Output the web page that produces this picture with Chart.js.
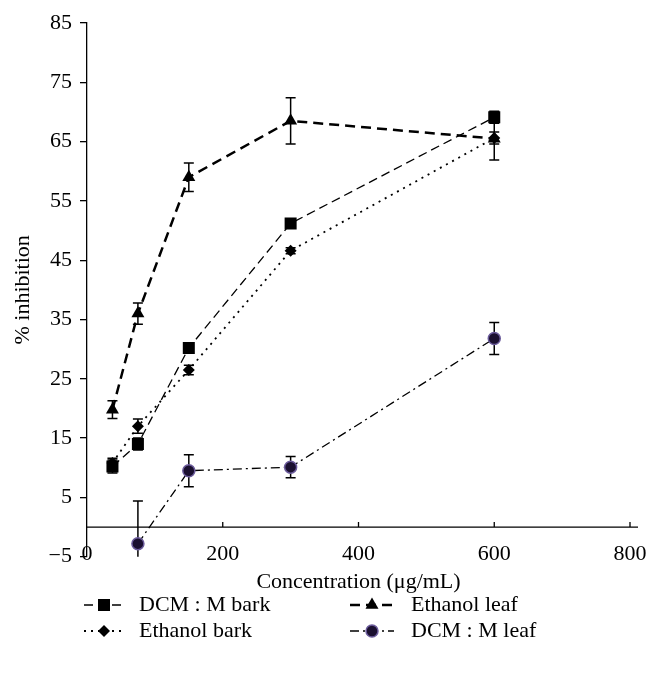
<!DOCTYPE html>
<html><head><meta charset="utf-8">
<script src="https://cdn.jsdelivr.net/npm/chart.js@4.4.1/dist/chart.umd.min.js"></script>
<style>html,body{margin:0;padding:0;background:#fff;}canvas{display:block;}</style>
</head><body>
<canvas id="c" width="660" height="674"></canvas>
<script>
const concentrations = [37.5, 75, 150, 300, 600];
const dcmBark = [10.2, 14.0, 30.2, 51.2, 69.1];
const dcmBarkErr = [1.1, 1.0, 0.7, 0.6, 1.0];
const ethanolLeaf = [19.8, 36.0, 59.0, 68.5, 65.5];
const ethanolLeafErr = [1.5, 1.8, 2.4, 3.9, 3.6];
const ethanolBark = [10.8, 17.0, 26.5, 46.6, 65.6];
const ethanolBarkErr = [0.8, 1.2, 0.8, 0.5, 1.0];
const dcmLeaf = [null, -2.8, 9.5, 10.1, 31.8];
const dcmLeafErr = [null, 7.2, 2.7, 1.8, 2.7];
const xTicks = [0, 200, 400, 600, 800];
const yTicks = [-5, 5, 15, 25, 35, 45, 55, 65, 75, 85];

const FONT = "'Liberation Serif', 'Times New Roman', serif";
const series = [
  {label:'DCM : M bark', data:dcmBark, err:dcmBarkErr, style:'rect', radius:8.5, dash:[9,5], width:1.3, fill:'#000', border:'#000', bw:0},
  {label:'Ethanol leaf', data:ethanolLeaf, err:ethanolLeafErr, style:'triangle', radius:7.5, dash:[10,6], width:2.5, fill:'#000', border:'#000', bw:0},
  {label:'Ethanol bark', data:ethanolBark, err:ethanolBarkErr, style:'rectRot', radius:6, dash:[2,5], width:1.8, fill:'#000', border:'#000', bw:0},
  {label:'DCM : M leaf', data:dcmLeaf, err:dcmLeafErr, style:'circle', radius:6, dash:[9,4,2,4], width:1.3, fill:'#1b1030', border:'#6b5b9b', bw:1.5}
];
function pts(vals){ return concentrations.map((x,i)=>({x:x, y:vals[i]})).filter(p=>p.y!==null); }

const extras = {
  id:'extras',
  beforeDatasetsDraw(chart){
    const {ctx, chartArea:a, scales:{x,y}} = chart;
    ctx.save();
    const y0 = y.getPixelForValue(0);
    ctx.strokeStyle='#000'; ctx.lineWidth=1.3;
    ctx.beginPath(); ctx.moveTo(a.left, y0); ctx.lineTo(a.right+8, y0);
    xTicks.forEach(t=>{ if(t===0) return; const px=x.getPixelForValue(t); ctx.moveTo(px,y0); ctx.lineTo(px,y0-5); });
    ctx.stroke();
    ctx.beginPath(); ctx.rect(a.left, a.top-10, a.right-a.left, a.bottom-a.top+10); ctx.clip();
    ctx.lineWidth=1.5;
    series.forEach(s=>{
      concentrations.forEach((c,i)=>{
        const v=s.data[i], e=s.err[i];
        if(v==null||e==null) return;
        const px=x.getPixelForValue(c), t=y.getPixelForValue(v+e), b=y.getPixelForValue(v-e);
        ctx.beginPath();
        ctx.moveTo(px,t); ctx.lineTo(px,b);
        ctx.moveTo(px-5,t); ctx.lineTo(px+5,t);
        ctx.moveTo(px-5,b); ctx.lineTo(px+5,b);
        ctx.stroke();
      });
    });
    ctx.restore();
  },
  afterDraw(chart){
    const ctx = chart.ctx;
    const cols = [{x1:84,x2:124,tx:139},{x1:350,x2:394,tx:411}];
    const rows = [605, 631];
    const order = [[0,0,0],[1,0,1],[2,1,0],[3,1,1]];
    ctx.save();
    order.forEach(([si,r,c])=>{
      const s=series[si], col=cols[c], yy=rows[r];
      ctx.strokeStyle='#000'; ctx.lineWidth=s.width; ctx.setLineDash(s.dash);
      ctx.beginPath(); ctx.moveTo(col.x1,yy); ctx.lineTo(col.x2,yy); ctx.stroke();
      ctx.setLineDash([]);
      const cx=(col.x1+col.x2)/2;
      ctx.fillStyle=s.fill; ctx.strokeStyle=s.border; ctx.lineWidth=s.bw;
      ctx.beginPath();
      Chart.helpers.drawPoint(ctx, {pointStyle:s.style, radius:s.radius, borderWidth:s.bw, rotation:0}, cx, yy);
      ctx.fillStyle='#000'; ctx.font='22px '+FONT; ctx.textBaseline='middle'; ctx.textAlign='left';
      ctx.fillText(s.label, col.tx, yy);
    });
    ctx.restore();
  }
};

new Chart(document.getElementById('c'), {
  type:'line',
  data:{ datasets: series.map(s=>({
    label:s.label, data:pts(s.data), borderColor:'#000', borderWidth:s.width, borderDash:s.dash,
    pointStyle:s.style, pointRadius:s.radius, pointHoverRadius:s.radius,
    pointBackgroundColor:s.fill, pointBorderColor:s.border, pointBorderWidth:s.bw,
    fill:false, tension:0
  }))},
  options:{
    responsive:false, animation:false, devicePixelRatio:1,
    layout:{padding:{left:10, top:23, right:30, bottom:78.8}},
    plugins:{legend:{display:false}, tooltip:{enabled:false}},
    scales:{
      x:{type:'linear', min:0, max:800,
        afterBuildTicks(s){ s.ticks = xTicks.map(v=>({value:v})); },
        afterFit(s){ s.height = 38.5; s._computeLabelArea = function(){ return undefined; }; },
        grid:{display:false, drawTicks:false}, border:{display:false},
        ticks:{padding:-16, color:'#000', font:{family:FONT, size:22}, maxRotation:0},
        title:{display:true, text:'Concentration (μg/mL)', color:'#000', font:{family:FONT, size:22}, padding:0}
      },
      y:{type:'linear', min:-5, max:85,
        afterBuildTicks(s){ s.ticks = yTicks.map(v=>({value:v})); },
        afterFit(s){ s.width = 77; },
        grid:{drawOnChartArea:false, drawTicks:true, tickLength:7, color:'#000', lineWidth:1.3},
        border:{display:true, color:'#000', width:1.3},
        ticks:{padding:8, color:'#000', font:{family:FONT, size:22},
          callback:(v)=> String(v).replace('-', '\u2212')},
        title:{display:true, text:'% inhibition', color:'#000', font:{family:FONT, size:22}, padding:0}
      }
    }
  },
  plugins:[extras]
});
</script>
</body></html>
